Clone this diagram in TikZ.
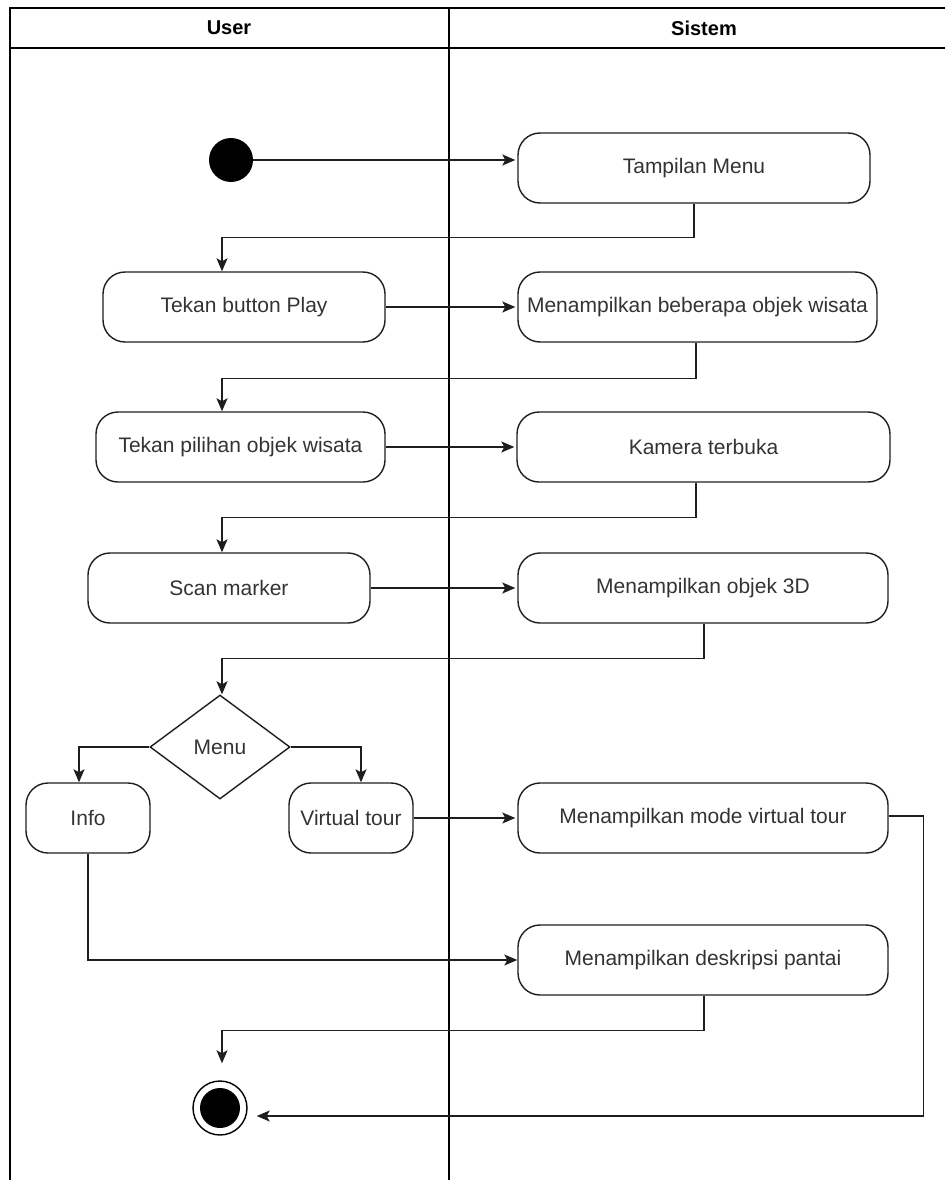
\documentclass[tikz,border=0pt]{standalone}
\usepackage{fontspec}
\setmainfont{Liberation Sans}
\usetikzlibrary{shapes.geometric,arrows.meta}
\definecolor{txtgray}{HTML}{333333}
\definecolor{linegray}{HTML}{1E1E1E}

\begin{document}
\begin{tikzpicture}[x=1pt, y=-1pt,
  act/.style={draw=linegray, line width=1.4pt, rounded corners=22pt, minimum height=70pt,
    inner sep=0pt, text=txtgray, font=\fontsize{21}{25}\selectfont},
  decision/.style={diamond, draw=linegray, line width=1.4pt, minimum width=140pt,
    minimum height=104pt, inner sep=0pt, text=txtgray, font=\fontsize{21}{25}\selectfont},
  flow/.style={draw=linegray, line width=1.4pt, -{Stealth[length=13pt, width=11pt, inset=3pt]}},
  lane/.style={line width=1.4pt},
  head/.style={font=\fontsize{20}{24}\selectfont\bfseries}]
  \useasboundingbox (0,0) rectangle (945,1180);

  % Swimlanes
  \draw[lane] (10,1180) -- (10,8) -- (945,8);
  \draw[lane] (10,48) -- (945,48);
  \draw[lane] (449,8) -- (449,1180);
  \node[head] (user) at (229,28) {User};
  \node[head] (sistem) at (704,28) {Sistem};

  % Start and end
  \node[circle, fill=black, minimum size=44pt, inner sep=0pt] (start) at (231,160) {};
  \node[circle, draw=black, line width=1.4pt, minimum size=54pt, inner sep=0pt] (end) at (220,1108) {};
  \node[circle, fill=black, minimum size=40pt, inner sep=0pt] (endin) at (end) {};

  % Activities
  \node[act, minimum width=352pt] (tampil) at (694,168) {Tampilan Menu};
  \node[act, minimum width=282pt] (play) at (244,307) {Tekan button Play};
  \node[act, minimum width=359pt] (objek) at (697.5,307) {Menampilkan beberapa objek wisata};
  \node[act, minimum width=289pt] (pilih) at (240.5,447) {Tekan pilihan objek wisata};
  \node[act, minimum width=373pt] (kamera) at (703.5,447) {Kamera terbuka};
  \node[act, minimum width=282pt] (scan) at (229,588) {Scan marker};
  \node[act, minimum width=370pt] (tiga) at (703,588) {Menampilkan objek 3D};
  \node[decision] (menu) at (220,747) {Menu};
  \node[act, minimum width=124pt] (info) at (88,818) {Info};
  \node[act, minimum width=124pt] (vtour) at (351,818) {Virtual tour};
  \node[act, minimum width=370pt] (mode) at (703,818) {Menampilkan mode virtual tour};
  \node[act, minimum width=370pt] (deskr) at (703,960) {Menampilkan deskripsi pantai};

  % Flow
  \draw[flow, shorten >=2pt] (start) -- (start -| tampil.west);
  \draw[flow] (tampil.south) -- ++(0,34) -| ([xshift=-22pt]play.north);
  \draw[flow, shorten >=2pt] (play) -- (objek);
  \draw[flow] ([xshift=-1.5pt]objek.south) -- ++(0,36) -| ([xshift=-18.5pt]pilih.north);
  \draw[flow, shorten >=2pt] (pilih) -- (kamera);
  \draw[flow] ([xshift=-7.5pt]kamera.south) -- ++(0,35) -| ([xshift=-7pt]scan.north);
  \draw[flow, shorten >=2pt] (scan) -- (tiga);
  \draw[flow] ([xshift=1pt]tiga.south) -- ++(0,35) -| ([xshift=2pt]menu.north);
  \draw[flow] (menu.west) -| ([xshift=-9pt]info.north);
  \draw[flow] (menu.east) -| ([xshift=10pt]vtour.north);
  \draw[flow, shorten >=2pt] (vtour) -- (mode);
  \draw[flow] (info.south) |- (deskr.west);
  \draw[flow, shorten >=17pt] ([xshift=1pt]deskr.south) -- ++(0,35) -| ([xshift=2pt]end.north);
  \draw[flow, shorten >=9pt] ([yshift=2pt]mode.east) -- ++(35,0) |- ([yshift=-8pt]end.east);
\end{tikzpicture}
\end{document}
